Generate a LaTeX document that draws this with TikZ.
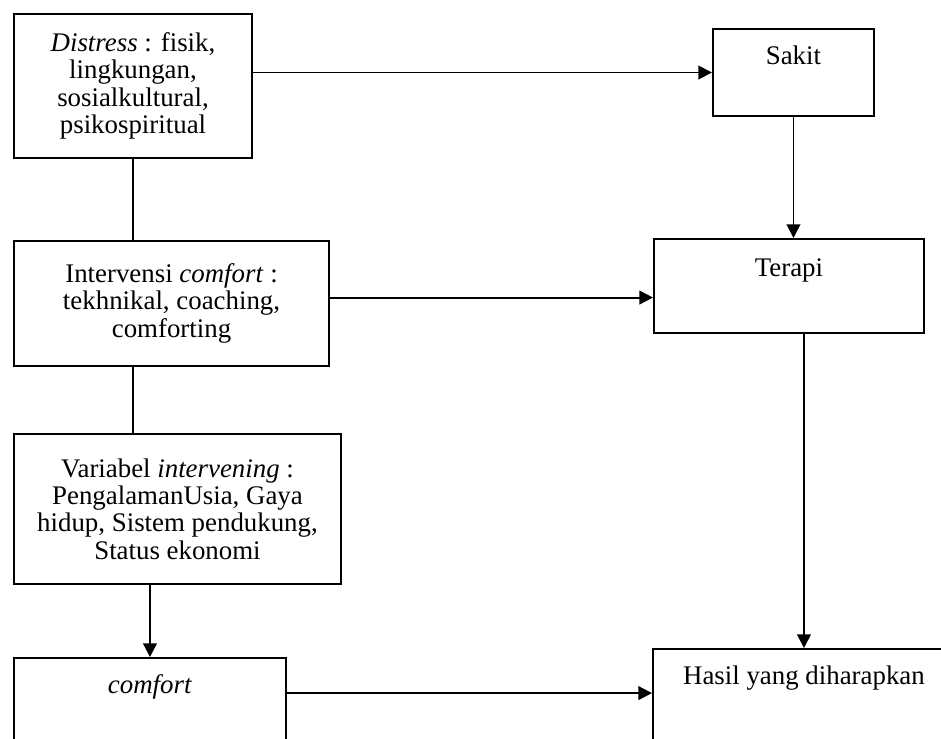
\documentclass[tikz,border=0pt]{standalone}
\usepackage{fontspec}
\setmainfont{Liberation Serif}
\usepackage{tikz}
\usetikzlibrary{arrows.meta, positioning, calc}

\begin{document}
\begin{tikzpicture}[x=0.51pt, y=-0.51pt,
    kotak/.style={draw, line width=1pt, anchor=north west, align=center,
        font=\fontsize{13.7}{14}\selectfont},
    atas/.style={kotak, inner ysep=0pt, text height=#1},
    panah/.style={line width=1pt, -{Triangle[length=7pt, width=7pt]}},
    garis/.style={line width=1pt}]

            \useasboundingbox (0,0) rectangle (941,738);
            \clip (0,0) rectangle (941,738);

            % Kotak kiri
            \node[kotak, minimum width=121.4pt, minimum height=73.4pt] (distress) at (13,13)
                {\textit{Distress} : fisik,\\ lingkungan,\\ sosialkultural,\\ psikospiritual};
            \node[kotak, minimum width=160.7pt, minimum height=63.7pt] (intervensi) at (13,240)
                {Intervensi \textit{comfort} :\\ tekhnikal, coaching,\\ comforting};
            \node[kotak, minimum width=166.8pt, minimum height=76.5pt] (variabel) at (13,433)
                {Variabel \textit{intervening} :\\ PengalamanUsia, Gaya\\ hidup, Sistem pendukung,\\ Status ekonomi};
            \node[atas=17.9pt, text depth=60pt, minimum width=138.7pt] (comfort) at (13,657)
                {\textit{comfort}};

            % Kotak kanan
            \node[atas=17.9pt, text depth=26.5pt, minimum width=82.1pt] (sakit) at (712,28) {Sakit};
            \node[atas=18.9pt, text depth=29pt, minimum width=137.7pt] (terapi) at (653,238) {Terapi};
            \node[atas=17.9pt, text depth=60pt, minimum width=154pt] (hasil) at (652,648) {Hasil yang diharapkan};

            % Garis penghubung
            \draw[garis] (distress.south) -- (distress.south |- intervensi.north);
            \draw[garis] (distress.south |- intervensi.south) -- (distress.south |- variabel.north);
            \draw[panah] (comfort.north |- variabel.south) -- (comfort.north);

            \draw[panah] (distress.east |- sakit.west) -- (sakit.west);
            \draw[panah] ([yshift=3pt]intervensi.east) -- ([yshift=3pt]intervensi.east -| terapi.west);
            \draw[panah] (comfort.base east) -- (comfort.base east -| hasil.west);

            \draw[panah] (sakit.south) -- (sakit.south |- terapi.north);
            \draw[panah] (hasil.north |- terapi.south) -- (hasil.north);

\end{tikzpicture}
\end{document}
